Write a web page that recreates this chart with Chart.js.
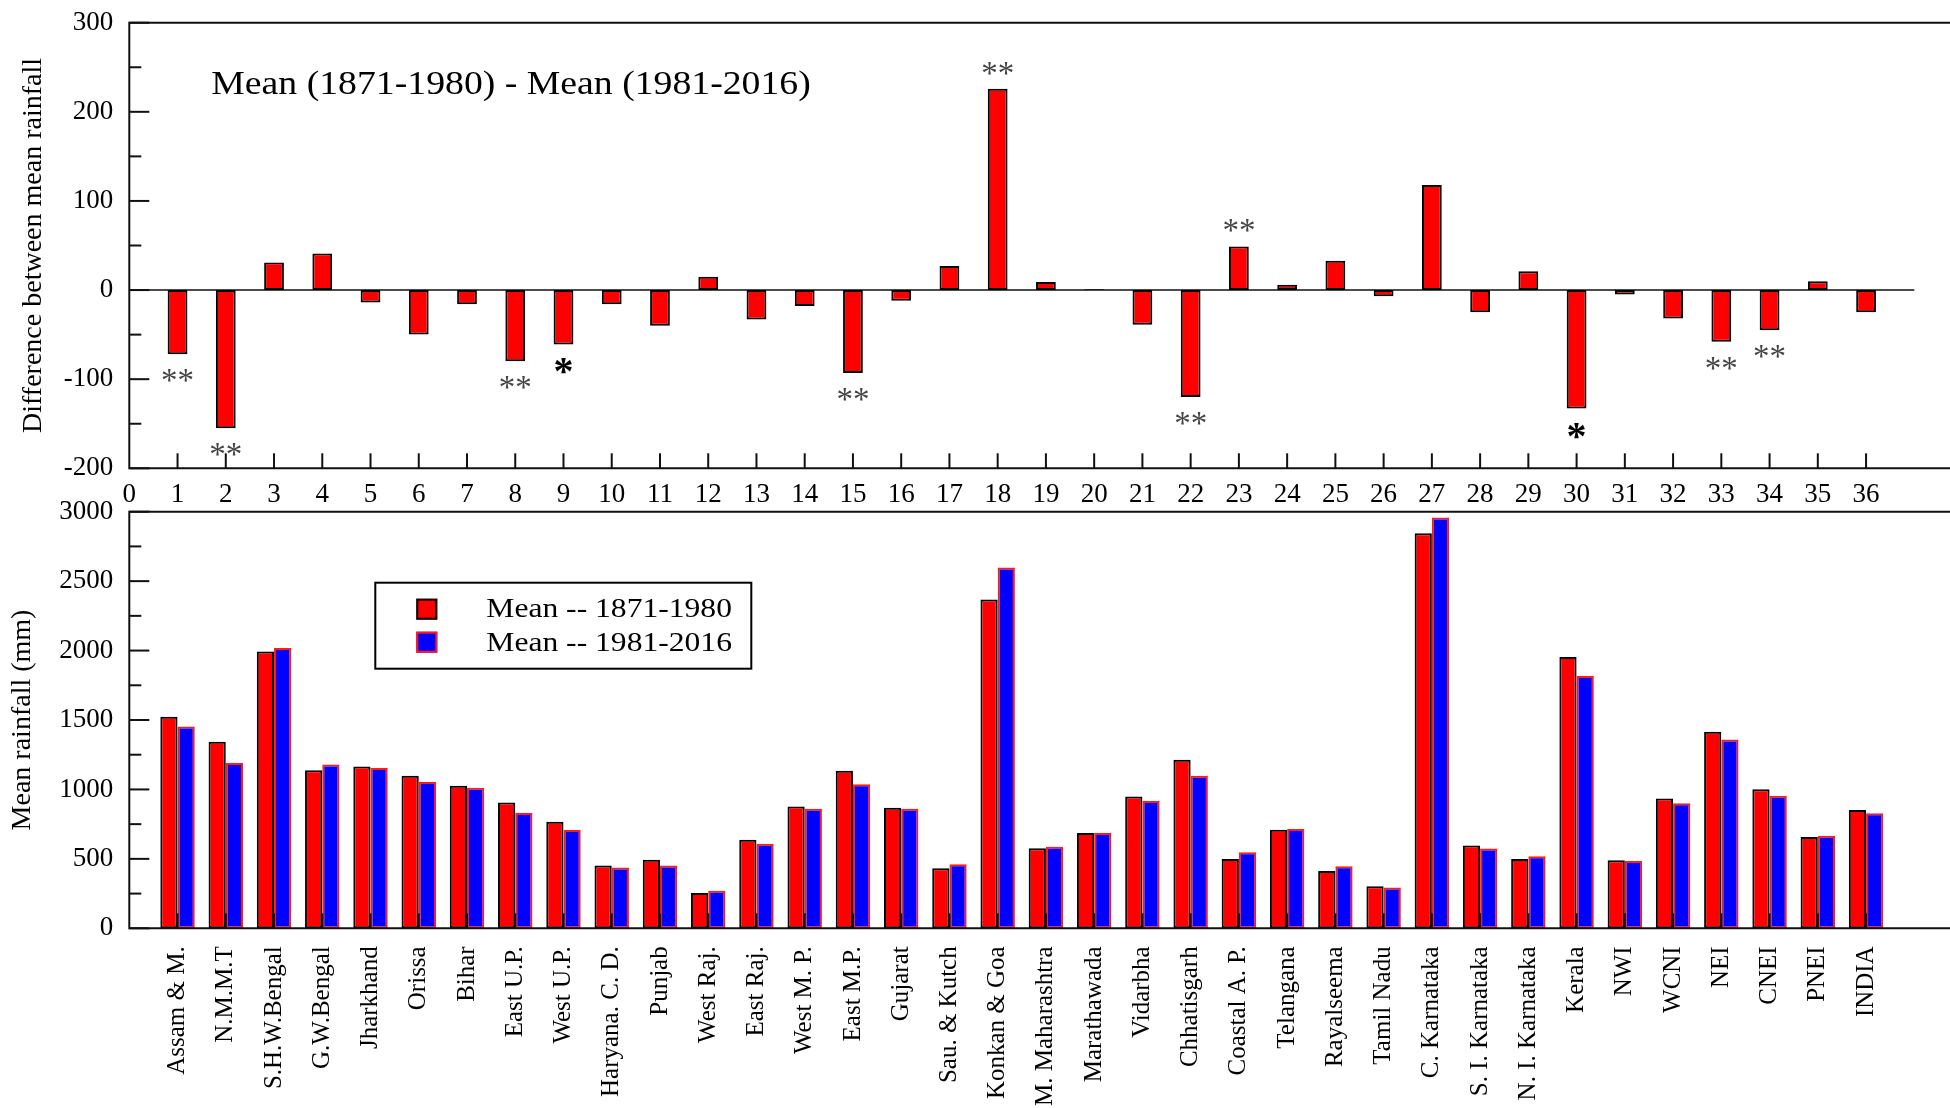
<!DOCTYPE html>
<html lang="en">
<head>
  <meta charset="UTF-8" />
  <title>Mean rainfall 1871-1980 vs 1981-2016</title>
  <script src="https://cdn.jsdelivr.net/npm/chart.js"></script>
  <style>
    body {
      margin: 0;
      background: #fff;
    }
    #wrap {
      position: relative;
      width: 1950px;
      height: 1108px;
      overflow: hidden;
    }
    canvas {
      position: absolute;
      left: 0;
    }
    #topChart { top: 0; }
    #bottomChart { top: 495px; }
  </style>
</head>
<body>
  <div id="wrap">
    <canvas id="topChart" width="1950" height="505"></canvas>
    <canvas id="bottomChart" width="1950" height="613"></canvas>
  </div>

  <script>
    // regions 1..36
    const regions = [
      'Assam & M.', 'N.M.M.T', 'S.H.W.Bengal', 'G.W.Bengal', 'Jharkhand', 'Orissa',
      'Bihar', 'East U.P.', 'West U.P.', 'Haryana. C. D.', 'Punjab', 'West Raj.',
      'East Raj.', 'West M. P.', 'East M.P.', 'Gujarat', 'Sau. & Kutch', 'Konkan & Goa',
      'M. Maharashtra', 'Marathawada', 'Vidarbha', 'Chhatisgarh', 'Coastal A. P.', 'Telangana',
      'Rayalseema', 'Tamil Nadu', 'C. Karnataka', 'S. I. Karnataka', 'N. I. Karnataka', 'Kerala',
      'NWI', 'WCNI', 'NEI', 'CNEI', 'PNEI', 'INDIA'
    ];

    // top panel: difference between means
    const diffMeans = [
      -72, -155, 31, 41, -14, -50, -16, -80, -61, -16, -40, 15,
      -33, -18, -93, -12, 27, 226, 9, 1, -39, -120, 49, 6,
      33, -7, 118, -25, 21, -133, -5, -32, -58, -45, 10, -25
    ];

    // significance marks: 2 = '**', 1 = '*'
    const signif = [
      2, 2, 0, 0, 0, 0, 0, 2, 1, 0, 0, 0,
      0, 0, 2, 0, 0, 2, 0, 0, 0, 2, 2, 0,
      0, 0, 0, 0, 0, 1, 0, 0, 2, 2, 0, 0
    ];

    // bottom panel: mean rainfall (mm)
    const seriesLabels = ['Mean -- 1871-1980', 'Mean -- 1981-2016'];
    const meanEarly = [
      1523, 1344, 1993, 1139, 1165, 1099, 1027, 906, 767, 453, 493, 254,
      637, 877, 1134, 868, 433, 2368, 577, 686, 949, 1214, 499, 710,
      412, 303, 2844, 597, 499, 1953, 490, 935, 1416, 1001, 658, 851
    ];
    const meanLate = [
      1454, 1191, 2019, 1180, 1154, 1053, 1012, 831, 707, 438, 453, 271,
      609, 860, 1038, 860, 461, 2599, 588, 686, 917, 1099, 548, 715,
      447, 294, 2959, 574, 519, 1817, 485, 900, 1359, 955, 666, 828
    ];

    const SERIF = '"Liberation Serif", "Times New Roman", serif';
    const X_MAX = 37.74;

    Chart.defaults.font.family = SERIF;
    Chart.defaults.color = '#000';

    function pts(values) {
      return values.map((v, i) => ({ x: i + 1, y: v }));
    }

    // frame lines and inward tick marks
    function drawFrame(chart, minorStep, majorStep) {
      const { ctx, chartArea: a, scales: { x, y } } = chart;
      ctx.save();
      ctx.strokeStyle = '#111';
      ctx.lineWidth = 2;
      ctx.beginPath();
      ctx.moveTo(a.right, a.top);
      ctx.lineTo(a.left, a.top);
      ctx.lineTo(a.left, a.bottom);
      ctx.lineTo(a.right, a.bottom);
      ctx.stroke();
      for (let v = y.min; v <= y.max; v += minorStep) {
        const py = y.getPixelForValue(v);
        const len = v % majorStep === 0 ? 20 : 12;
        ctx.beginPath();
        ctx.moveTo(a.left, py);
        ctx.lineTo(a.left + len, py);
        ctx.stroke();
      }
      for (let i = 1; i <= regions.length; i++) {
        const px = x.getPixelForValue(i);
        ctx.beginPath();
        ctx.moveTo(px, a.bottom);
        ctx.lineTo(px, a.bottom - 15);
        ctx.stroke();
      }
      ctx.restore();
    }

    function stretchedText(ctx, text, x, y, font, sx) {
      ctx.save();
      ctx.translate(x, y);
      ctx.scale(sx, 1);
      ctx.font = font;
      ctx.fillStyle = '#000';
      ctx.textBaseline = 'alphabetic';
      ctx.textAlign = 'left';
      ctx.fillText(text, 0, 0);
      ctx.restore();
    }

    // keep the plot area exactly where the axes are set
    function fixY(width) {
      return s => {
        s.width = width;
        s.paddingTop = 0;
        s.paddingBottom = 0;
      };
    }
    function fixX(height) {
      return s => {
        s.height = height;
        s.paddingLeft = 0;
        s.paddingRight = 0;
      };
    }

    const topDecor = {
      id: 'topDecor',
      beforeDatasetsDraw(chart) {
        const { ctx, scales: { x, y } } = chart;
        const y0 = y.getPixelForValue(0);
        ctx.save();
        ctx.strokeStyle = '#111';
        ctx.lineWidth = 1.5;
        ctx.beginPath();
        ctx.moveTo(x.getPixelForValue(0), y0);
        ctx.lineTo(x.getPixelForValue(37), y0);
        ctx.stroke();
        ctx.restore();
      },
      afterDatasetsDraw(chart) {
        drawFrame(chart, 50, 100);
        const { ctx, chartArea: a, scales: { x, y } } = chart;
        signif.forEach((s, i) => {
          if (!s) return;
          const v = diffMeans[i];
          const px = x.getPixelForValue(i + 1);
          const end = y.getPixelForValue(v);
          const cy = v < 0 ? end + 21 : end - 21;
          ctx.save();
          ctx.textAlign = 'center';
          ctx.textBaseline = 'alphabetic';
          if (s === 2) {
            ctx.font = '33px ' + SERIF;
            ctx.fillStyle = '#444';
            ctx.fillText('**', px, cy + 16);
          } else {
            ctx.font = 'bold 40px ' + SERIF;
            ctx.fillStyle = '#000';
            ctx.fillText('*', px, cy + 19);
          }
          ctx.restore();
        });
        stretchedText(ctx, 'Mean (1871-1980) - Mean (1981-2016)', a.left + 82, a.top + 71, '34px ' + SERIF, 1.11);
      }
    };

    const bottomDecor = {
      id: 'bottomDecor',
      afterDatasetsDraw(chart) {
        drawFrame(chart, 250, 500);
        const { ctx, chartArea: a } = chart;
        const bx = a.left + 246;
        const by = a.top + 71;
        ctx.save();
        ctx.fillStyle = '#fff';
        ctx.fillRect(bx, by, 376, 86);
        ctx.strokeStyle = '#000';
        ctx.lineWidth = 2;
        ctx.strokeRect(bx, by, 376, 86);
        chart.data.datasets.forEach((ds, k) => {
          const sy = by + 16 + k * 33;
          ctx.fillStyle = ds.backgroundColor;
          ctx.fillRect(bx + 41, sy, 21, 21);
          ctx.strokeStyle = ds.borderColor;
          ctx.lineWidth = 2;
          ctx.strokeRect(bx + 42, sy + 1, 19, 19);
          stretchedText(ctx, ds.label, bx + 111, by + 34 + k * 34, '27px ' + SERIF, 1.17);
        });
        ctx.restore();
      }
    };

    new Chart(document.getElementById('topChart'), {
      type: 'bar',
      data: {
        datasets: [{
          data: pts(diffMeans),
          backgroundColor: '#ff0000',
          borderColor: '#000',
          borderWidth: 2,
          borderSkipped: false,
          categoryPercentage: 0.41,
          barPercentage: 1
        }]
      },
      options: {
        responsive: false,
        animation: false,
        devicePixelRatio: 1,
        layout: { padding: { top: 22.7, right: 0, left: 0, bottom: 0 } },
        plugins: { legend: { display: false }, tooltip: { enabled: false } },
        scales: {
          x: {
            type: 'linear',
            offset: false,
            min: 0,
            max: X_MAX,
            grid: { display: false, drawTicks: false, offset: false },
            border: { display: false },
            ticks: {
              stepSize: 1,
              maxTicksLimit: 100,
              includeBounds: false,
              autoSkip: false,
              minRotation: 0,
              maxRotation: 0,
              padding: 10,
              font: { size: 27 },
              callback: v => (v <= regions.length ? String(v) : '')
            },
            afterFit: fixX(36.7)
          },
          y: {
            min: -200,
            max: 300,
            grid: { display: false, drawTicks: false },
            border: { display: false },
            ticks: { stepSize: 100, padding: 16, font: { size: 27 }, callback: v => String(v) },
            title: {
              display: true,
              text: 'Difference between mean rainfall',
              font: { size: 28 },
              padding: { top: 16.8, bottom: 0 }
            },
            afterFit: fixY(129.3)
          }
        }
      },
      plugins: [topDecor]
    });

    new Chart(document.getElementById('bottomChart'), {
      type: 'bar',
      data: {
        datasets: [
          {
            label: seriesLabels[0],
            data: pts(meanEarly),
            backgroundColor: '#ff0000',
            borderColor: '#000',
            borderWidth: 2,
            borderSkipped: false,
            categoryPercentage: 0.714,
            barPercentage: 1
          },
          {
            label: seriesLabels[1],
            data: pts(meanLate),
            backgroundColor: '#0000ff',
            borderColor: '#ff1a1a',
            borderWidth: 2,
            borderSkipped: false,
            categoryPercentage: 0.714,
            barPercentage: 1
          }
        ]
      },
      options: {
        responsive: false,
        animation: false,
        devicePixelRatio: 1,
        layout: { padding: { top: 16.7, right: 0, left: 0, bottom: 0 } },
        plugins: { legend: { display: false }, tooltip: { enabled: false } },
        scales: {
          x: {
            type: 'linear',
            offset: false,
            min: 0,
            max: X_MAX,
            grid: { display: false, drawTicks: false, offset: false },
            border: { display: false },
            ticks: {
              stepSize: 1,
              maxTicksLimit: 100,
              includeBounds: false,
              autoSkip: false,
              minRotation: 90,
              maxRotation: 90,
              padding: 18,
              font: { size: 25 },
              callback: v => (v >= 1 && v <= regions.length ? regions[v - 1] : '')
            },
            afterFit: fixX(179.7)
          },
          y: {
            min: 0,
            max: 3000,
            grid: { display: false, drawTicks: false },
            border: { display: false },
            ticks: { stepSize: 500, padding: 16, font: { size: 27 }, callback: v => String(v) },
            title: {
              display: true,
              text: 'Mean rainfall (mm)',
              font: { size: 28 },
              padding: { top: 5.6, bottom: 0 }
            },
            afterFit: fixY(129.3)
          }
        }
      },
      plugins: [bottomDecor]
    });
  </script>
</body>
</html>
